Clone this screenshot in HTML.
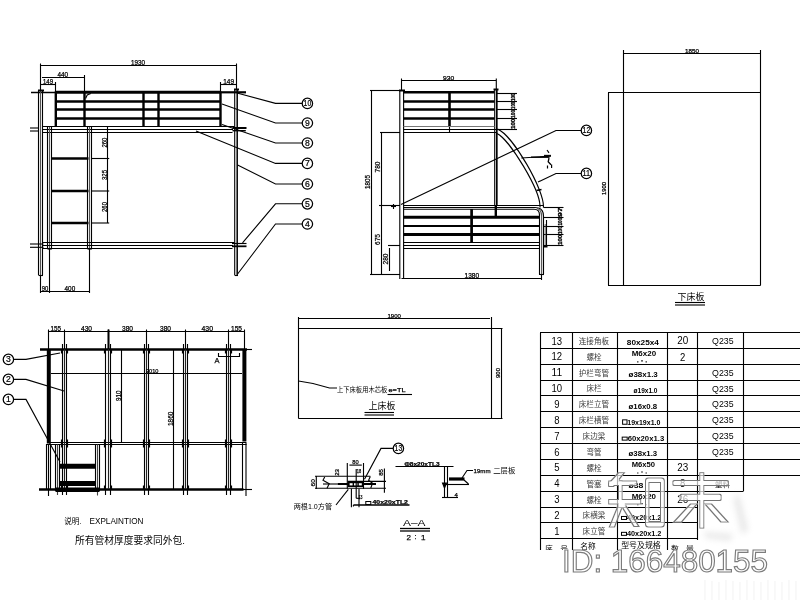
<!DOCTYPE html>
<html><head><meta charset="utf-8"><title>Bunk bed drawing</title>
<style>
html,body{margin:0;padding:0;background:#fff;}
body{width:800px;height:600px;overflow:hidden;font-family:"Liberation Sans",sans-serif;}
svg{display:block}
.cj{font-family:"Liberation Sans","Noto Sans CJK SC",sans-serif;}
</style></head><body>
<svg width="800" height="600" viewBox="0 0 800 600">
<rect x="0" y="0" width="800" height="600" fill="#fff"/>
<g opacity="0.999">
<line x1="40" y1="65.5" x2="236.5" y2="65.5" stroke="#000" stroke-width="1.12"/>
<line x1="40.5" y1="63.5" x2="40.5" y2="91" stroke="#000" stroke-width="1.12"/>
<line x1="236.5" y1="63.5" x2="236.5" y2="90" stroke="#000" stroke-width="1.12"/>
<text x="131" y="64.7" font-size="6.5" font-family="Liberation Sans, sans-serif" fill="#000" textLength="14" lengthAdjust="spacingAndGlyphs" stroke="#000" stroke-width="0.25">1930</text>
<path d="M85.6 98.6l1.6 -3.6l3.6 -1.6" stroke="#000" stroke-width="1.12" fill="none"/>
<line x1="42" y1="77.5" x2="84.5" y2="77.5" stroke="#000" stroke-width="1.12"/>
<line x1="84.5" y1="75" x2="84.5" y2="92" stroke="#000" stroke-width="1.12"/>
<text x="57.5" y="76.5" font-size="6.5" font-family="Liberation Sans, sans-serif" fill="#000" textLength="10.5" lengthAdjust="spacingAndGlyphs" stroke="#000" stroke-width="0.25">440</text>
<line x1="40" y1="84.5" x2="55.5" y2="84.5" stroke="#000" stroke-width="1.12"/>
<line x1="55.5" y1="82" x2="55.5" y2="92" stroke="#000" stroke-width="1.12"/>
<text x="43" y="83.5" font-size="6.5" font-family="Liberation Sans, sans-serif" fill="#000" textLength="10" lengthAdjust="spacingAndGlyphs" stroke="#000" stroke-width="0.25">149</text>
<line x1="220.5" y1="84.5" x2="236.5" y2="84.5" stroke="#000" stroke-width="1.12"/>
<line x1="220.5" y1="82" x2="220.5" y2="92" stroke="#000" stroke-width="1.12"/>
<text x="223.2" y="84.2" font-size="6.5" font-family="Liberation Sans, sans-serif" fill="#000" textLength="10.8" lengthAdjust="spacingAndGlyphs" stroke="#000" stroke-width="0.25">149</text>
<line x1="31" y1="92.5" x2="55" y2="92.5" stroke="#000" stroke-width="1.5"/>
<line x1="55" y1="92.3" x2="221" y2="92.3" stroke="#000" stroke-width="3"/>
<line x1="221" y1="92.3" x2="246" y2="92.3" stroke="#000" stroke-width="2.2"/>
<line x1="55" y1="101.5" x2="221" y2="101.5" stroke="#000" stroke-width="2.6"/>
<line x1="55" y1="109.5" x2="221" y2="109.5" stroke="#000" stroke-width="2.6"/>
<line x1="55" y1="118.5" x2="221" y2="118.5" stroke="#000" stroke-width="2.6"/>
<line x1="55.8" y1="91.5" x2="55.8" y2="127" stroke="#000" stroke-width="2.4"/>
<line x1="84.5" y1="91.5" x2="84.5" y2="127" stroke="#000" stroke-width="2.4"/>
<line x1="143.5" y1="91.5" x2="143.5" y2="127" stroke="#000" stroke-width="2.4"/>
<line x1="158.5" y1="91.5" x2="158.5" y2="127" stroke="#000" stroke-width="2.4"/>
<line x1="220.5" y1="91.5" x2="220.5" y2="127" stroke="#000" stroke-width="2.4"/>
<line x1="43" y1="126.5" x2="234.5" y2="126.5" stroke="#000" stroke-width="1.12"/>
<line x1="232.5" y1="128" x2="246.5" y2="128" stroke="#000" stroke-width="2"/>
<line x1="43" y1="129.5" x2="233" y2="129.5" stroke="#000" stroke-width="1.12"/>
<line x1="43" y1="132.5" x2="232.5" y2="132.5" stroke="#000" stroke-width="1.12"/>
<line x1="232.5" y1="130.7" x2="245.8" y2="130.7" stroke="#000" stroke-width="1.4"/>
<line x1="30" y1="128" x2="39" y2="128" stroke="#000" stroke-width="1.12"/>
<line x1="30" y1="131" x2="39" y2="131" stroke="#000" stroke-width="1.12"/>
<line x1="38.5" y1="90" x2="38.5" y2="275.5" stroke="#000" stroke-width="1.12"/>
<line x1="42.5" y1="90" x2="42.5" y2="275.5" stroke="#000" stroke-width="1.12"/>
<line x1="40.5" y1="90" x2="40.5" y2="275.5" stroke="#555" stroke-width="1.12"/>
<line x1="39" y1="275.5" x2="43" y2="275.5" stroke="#000" stroke-width="1.12"/>
<line x1="38" y1="90.5" x2="44" y2="90.5" stroke="#000" stroke-width="2"/>
<line x1="234.7" y1="89" x2="234.7" y2="275.5" stroke="#000" stroke-width="1.1"/>
<line x1="237.2" y1="89" x2="237.2" y2="275.5" stroke="#000" stroke-width="1.5"/>
<line x1="235" y1="275.5" x2="238" y2="275.5" stroke="#000" stroke-width="1.12"/>
<line x1="234" y1="89.5" x2="239" y2="89.5" stroke="#000" stroke-width="2"/>
<line x1="47.5" y1="127" x2="47.5" y2="249" stroke="#000" stroke-width="1.12"/>
<line x1="51.5" y1="127" x2="51.5" y2="249" stroke="#000" stroke-width="1.12"/>
<line x1="87.5" y1="127" x2="87.5" y2="249" stroke="#000" stroke-width="1.12"/>
<line x1="91.5" y1="127" x2="91.5" y2="249" stroke="#000" stroke-width="1.12"/>
<line x1="49.5" y1="127" x2="49.5" y2="249" stroke="#555" stroke-width="1.12"/>
<line x1="89.5" y1="127" x2="89.5" y2="249" stroke="#555" stroke-width="1.12"/>
<line x1="47.5" y1="248.8" x2="51.8" y2="248.8" stroke="#000" stroke-width="1.6"/>
<line x1="87.5" y1="248.8" x2="91.8" y2="248.8" stroke="#000" stroke-width="1.6"/>
<line x1="51.5" y1="158.5" x2="88.5" y2="158.5" stroke="#000" stroke-width="2.4"/>
<line x1="51.5" y1="191" x2="88.5" y2="191" stroke="#000" stroke-width="2.4"/>
<line x1="51.5" y1="223" x2="88.5" y2="223" stroke="#000" stroke-width="2.4"/>
<line x1="107.5" y1="127" x2="107.5" y2="223" stroke="#000" stroke-width="1.12"/>
<line x1="91.5" y1="158.5" x2="109.2" y2="158.5" stroke="#000" stroke-width="1.12"/>
<line x1="91.5" y1="191" x2="109.2" y2="191" stroke="#000" stroke-width="1.12"/>
<line x1="91.5" y1="223" x2="109.2" y2="223" stroke="#000" stroke-width="1.12"/>
<text x="106.6" y="147.6" font-size="7" font-family="Liberation Sans, sans-serif" fill="#000" textLength="10" lengthAdjust="spacingAndGlyphs" transform="rotate(-90 106.6 147.6)" stroke="#000" stroke-width="0.25">260</text>
<text x="106.6" y="180" font-size="7" font-family="Liberation Sans, sans-serif" fill="#000" textLength="10" lengthAdjust="spacingAndGlyphs" transform="rotate(-90 106.6 180)" stroke="#000" stroke-width="0.25">325</text>
<text x="106.6" y="212" font-size="7" font-family="Liberation Sans, sans-serif" fill="#000" textLength="10" lengthAdjust="spacingAndGlyphs" transform="rotate(-90 106.6 212)" stroke="#000" stroke-width="0.25">260</text>
<line x1="43" y1="242.5" x2="234.5" y2="242.5" stroke="#000" stroke-width="1.12"/>
<line x1="43" y1="245.5" x2="233" y2="245.5" stroke="#000" stroke-width="1.12"/>
<line x1="43" y1="248.5" x2="232.5" y2="248.5" stroke="#000" stroke-width="1.12"/>
<line x1="232" y1="243.5" x2="246.5" y2="243.5" stroke="#000" stroke-width="1.2"/>
<line x1="232" y1="246.3" x2="246.5" y2="246.3" stroke="#000" stroke-width="1.8"/>
<line x1="30" y1="244" x2="43.5" y2="244" stroke="#000" stroke-width="1.12"/>
<line x1="30" y1="247.3" x2="43.5" y2="247.3" stroke="#000" stroke-width="1.12"/>
<line x1="40" y1="291.5" x2="89.5" y2="291.5" stroke="#000" stroke-width="1.12"/>
<line x1="40.5" y1="275.5" x2="40.5" y2="293" stroke="#000" stroke-width="1.12"/>
<line x1="49.5" y1="249" x2="49.5" y2="293" stroke="#000" stroke-width="1.12"/>
<line x1="89.5" y1="249" x2="89.5" y2="293" stroke="#000" stroke-width="1.12"/>
<text x="41.8" y="290.7" font-size="6.5" font-family="Liberation Sans, sans-serif" fill="#000" textLength="6.5" lengthAdjust="spacingAndGlyphs" stroke="#000" stroke-width="0.25">90</text>
<text x="64.6" y="290.7" font-size="6.5" font-family="Liberation Sans, sans-serif" fill="#000" textLength="10.6" lengthAdjust="spacingAndGlyphs" stroke="#000" stroke-width="0.25">400</text>
<path d="M237 93L275.5 103.4H302.4" stroke="#000" stroke-width="1.12" fill="none"/>
<circle cx="307.4" cy="103.4" r="5.2" fill="#fff" stroke="#000" stroke-width="1.25"/>
<text x="307.4" y="106.4" font-size="8.6" font-family="Liberation Sans, sans-serif" fill="#000" text-anchor="middle" textLength="7.6" lengthAdjust="spacingAndGlyphs" stroke="#000" stroke-width="0.2">10</text>
<path d="M222 104L275.5 123H302.4" stroke="#000" stroke-width="1.12" fill="none"/>
<circle cx="307.4" cy="123" r="5.2" fill="#fff" stroke="#000" stroke-width="1.25"/>
<text x="307.4" y="126.05" font-size="8.6" font-family="Liberation Sans, sans-serif" fill="#000" text-anchor="middle" stroke="#000" stroke-width="0.2">9</text>
<path d="M222 124.5L275.5 143H302.4" stroke="#000" stroke-width="1.12" fill="none"/>
<circle cx="307.4" cy="143" r="5.2" fill="#fff" stroke="#000" stroke-width="1.25"/>
<text x="307.4" y="146.05" font-size="8.6" font-family="Liberation Sans, sans-serif" fill="#000" text-anchor="middle" stroke="#000" stroke-width="0.2">8</text>
<path d="M196 131L275.5 163.4H302.4" stroke="#000" stroke-width="1.12" fill="none"/>
<circle cx="307.4" cy="163.4" r="5.2" fill="#fff" stroke="#000" stroke-width="1.25"/>
<text x="307.4" y="166.45" font-size="8.6" font-family="Liberation Sans, sans-serif" fill="#000" text-anchor="middle" stroke="#000" stroke-width="0.2">7</text>
<path d="M237.6 165L275.5 184H302.4" stroke="#000" stroke-width="1.12" fill="none"/>
<circle cx="307.4" cy="184" r="5.2" fill="#fff" stroke="#000" stroke-width="1.25"/>
<text x="307.4" y="187.05" font-size="8.6" font-family="Liberation Sans, sans-serif" fill="#000" text-anchor="middle" stroke="#000" stroke-width="0.2">6</text>
<path d="M242.5 242.8L275.5 203.8H302.4" stroke="#000" stroke-width="1.12" fill="none"/>
<circle cx="307.4" cy="203.8" r="5.2" fill="#fff" stroke="#000" stroke-width="1.25"/>
<text x="307.4" y="206.85" font-size="8.6" font-family="Liberation Sans, sans-serif" fill="#000" text-anchor="middle" stroke="#000" stroke-width="0.2">5</text>
<path d="M237.6 274L275.5 224H302.4" stroke="#000" stroke-width="1.12" fill="none"/>
<circle cx="307.4" cy="224" r="5.2" fill="#fff" stroke="#000" stroke-width="1.25"/>
<text x="307.4" y="227.05" font-size="8.6" font-family="Liberation Sans, sans-serif" fill="#000" text-anchor="middle" stroke="#000" stroke-width="0.2">4</text>
<line x1="401.5" y1="80.5" x2="496" y2="80.5" stroke="#000" stroke-width="1.12"/>
<line x1="401.5" y1="78.5" x2="401.5" y2="90" stroke="#000" stroke-width="1.12"/>
<line x1="496.3" y1="78.5" x2="496.3" y2="90" stroke="#000" stroke-width="1.12"/>
<text x="443" y="79.8" font-size="6" font-family="Liberation Sans, sans-serif" fill="#000" textLength="11.2" lengthAdjust="spacingAndGlyphs" stroke="#000" stroke-width="0.25">930</text>
<line x1="399.8" y1="90" x2="399.8" y2="279" stroke="#000" stroke-width="1.12"/>
<line x1="403.6" y1="90" x2="403.6" y2="279" stroke="#000" stroke-width="1.12"/>
<line x1="399" y1="90.5" x2="405" y2="90.5" stroke="#000" stroke-width="2"/>
<line x1="494.7" y1="89" x2="494.7" y2="206" stroke="#000" stroke-width="1.1"/>
<line x1="496.8" y1="89" x2="496.8" y2="206" stroke="#000" stroke-width="1.7"/>
<line x1="493.5" y1="89.5" x2="498.5" y2="89.5" stroke="#000" stroke-width="2"/>
<line x1="403.5" y1="92.3" x2="494.5" y2="92.3" stroke="#000" stroke-width="2.6"/>
<line x1="403.5" y1="101.5" x2="494.5" y2="101.5" stroke="#000" stroke-width="2.6"/>
<line x1="403.5" y1="109.5" x2="494.5" y2="109.5" stroke="#000" stroke-width="2.6"/>
<line x1="403.5" y1="118.5" x2="494.5" y2="118.5" stroke="#000" stroke-width="2.6"/>
<line x1="449.5" y1="92" x2="449.5" y2="127" stroke="#000" stroke-width="2.6"/>
<line x1="449.5" y1="127" x2="449.5" y2="132" stroke="#000" stroke-width="1.12"/>
<line x1="403.5" y1="126.5" x2="494.5" y2="126.5" stroke="#777" stroke-width="1.12"/>
<line x1="403.5" y1="129.5" x2="497" y2="129.5" stroke="#000" stroke-width="1.12"/>
<line x1="403.5" y1="132.5" x2="497" y2="132.5" stroke="#000" stroke-width="1.12"/>
<line x1="370" y1="90.5" x2="400" y2="90.5" stroke="#000" stroke-width="1.12"/>
<line x1="371.5" y1="90.5" x2="371.5" y2="274.5" stroke="#000" stroke-width="1.12"/>
<line x1="380" y1="132.5" x2="400" y2="132.5" stroke="#000" stroke-width="1.12"/>
<line x1="381.5" y1="132.5" x2="381.5" y2="274.5" stroke="#000" stroke-width="1.12"/>
<line x1="379" y1="205.5" x2="400" y2="205.5" stroke="#000" stroke-width="1.12"/>
<line x1="388" y1="245.5" x2="400" y2="245.5" stroke="#000" stroke-width="1.12"/>
<line x1="389.5" y1="248" x2="389.5" y2="271" stroke="#000" stroke-width="1.12"/>
<line x1="370" y1="274.5" x2="400" y2="274.5" stroke="#000" stroke-width="1.12"/>
<text x="369.7" y="189" font-size="7" font-family="Liberation Sans, sans-serif" fill="#000" textLength="14" lengthAdjust="spacingAndGlyphs" transform="rotate(-90 369.7 189)" stroke="#000" stroke-width="0.25">1805</text>
<text x="379.7" y="172.5" font-size="7" font-family="Liberation Sans, sans-serif" fill="#000" textLength="11" lengthAdjust="spacingAndGlyphs" transform="rotate(-90 379.7 172.5)" stroke="#000" stroke-width="0.25">780</text>
<text x="379.7" y="245" font-size="7" font-family="Liberation Sans, sans-serif" fill="#000" textLength="11" lengthAdjust="spacingAndGlyphs" transform="rotate(-90 379.7 245)" stroke="#000" stroke-width="0.25">675</text>
<text x="387.7" y="264.5" font-size="7" font-family="Liberation Sans, sans-serif" fill="#000" textLength="11" lengthAdjust="spacingAndGlyphs" transform="rotate(-90 387.7 264.5)" stroke="#000" stroke-width="0.25">280</text>
<path d="M403.5 205.5H543.5" stroke="#000" stroke-width="1.12" fill="none"/>
<path d="M403.5 207.5H535Q543.5 207.5 543.5 216V274.5" stroke="#000" stroke-width="1.12" fill="none"/>
<path d="M403.5 209.3H534Q539.5 209.3 539.5 215V274.5" stroke="#000" stroke-width="1.12" fill="none"/>
<path d="M537 208.5Q541.6 209.5 541.6 216V274.5" stroke="#555" stroke-width="1.12" fill="none"/>
<line x1="539" y1="274.5" x2="544" y2="274.5" stroke="#000" stroke-width="1.12"/>
<line x1="403.5" y1="217.2" x2="540" y2="217.2" stroke="#000" stroke-width="3"/>
<line x1="403.5" y1="226" x2="540" y2="226" stroke="#000" stroke-width="2.2"/>
<line x1="403.5" y1="234.4" x2="540" y2="234.4" stroke="#000" stroke-width="3"/>
<line x1="471.6" y1="209" x2="471.6" y2="242.5" stroke="#000" stroke-width="2.7"/>
<line x1="403.5" y1="242.5" x2="540" y2="242.5" stroke="#000" stroke-width="1.12"/>
<line x1="403.5" y1="245.5" x2="540" y2="245.5" stroke="#000" stroke-width="1.12"/>
<line x1="403.5" y1="248.5" x2="540" y2="248.5" stroke="#000" stroke-width="1.12"/>
<line x1="495.8" y1="205.5" x2="495.8" y2="216" stroke="#000" stroke-width="2.4"/>
<path d="M497.5 129C513.1 135.6 544.8 190.5 543.4 207.5" stroke="#000" stroke-width="1.12" fill="none"/>
<path d="M497 133.5C509.5 139.5 541 190.5 540 207.5" stroke="#000" stroke-width="1.12" fill="none"/>
<line x1="536.5" y1="190.5" x2="541.5" y2="189.5" stroke="#000" stroke-width="1.6"/>
<path d="M521.3 158L551 156.1" stroke="#000" stroke-width="1.12" fill="none"/>
<path d="M531 157.2H549.5" stroke="#000" stroke-width="1.4" fill="none"/>
<path d="M544 155.4H551" stroke="#000" stroke-width="1.12" fill="none"/>
<path d="M547 150l2 2.8" stroke="#000" stroke-width="1.12" fill="none"/>
<path d="M549 158l-0.8 3.8l2.8 3" stroke="#000" stroke-width="1.3" fill="none"/>
<path d="M547.5 165.5v3M551.6 164.4v3.6" stroke="#000" stroke-width="1.2" fill="none"/>
<line x1="497" y1="93.5" x2="517" y2="93.5" stroke="#000" stroke-width="1.12"/>
<line x1="497" y1="101.5" x2="517" y2="101.5" stroke="#000" stroke-width="1.12"/>
<line x1="497" y1="109.5" x2="517" y2="109.5" stroke="#000" stroke-width="1.12"/>
<line x1="497" y1="118.5" x2="517" y2="118.5" stroke="#000" stroke-width="1.12"/>
<line x1="497" y1="129.5" x2="517" y2="129.5" stroke="#000" stroke-width="1.12"/>
<text x="515.2" y="101" font-size="6" font-family="Liberation Sans, sans-serif" fill="#000" font-weight="bold" textLength="7.7" lengthAdjust="spacingAndGlyphs" transform="rotate(-90 515.2 101)" stroke="#000" stroke-width="0.35">100</text>
<text x="515.2" y="109" font-size="6" font-family="Liberation Sans, sans-serif" fill="#000" font-weight="bold" textLength="7.2" lengthAdjust="spacingAndGlyphs" transform="rotate(-90 515.2 109)" stroke="#000" stroke-width="0.35">100</text>
<text x="515.2" y="118" font-size="6" font-family="Liberation Sans, sans-serif" fill="#000" font-weight="bold" textLength="8.2" lengthAdjust="spacingAndGlyphs" transform="rotate(-90 515.2 118)" stroke="#000" stroke-width="0.35">100</text>
<text x="515.2" y="129" font-size="6" font-family="Liberation Sans, sans-serif" fill="#000" font-weight="bold" textLength="10.2" lengthAdjust="spacingAndGlyphs" transform="rotate(-90 515.2 129)" stroke="#000" stroke-width="0.35">100</text>
<line x1="543.5" y1="207.5" x2="563.5" y2="207.5" stroke="#000" stroke-width="1.12"/>
<line x1="543.5" y1="217.5" x2="563.5" y2="217.5" stroke="#000" stroke-width="1.12"/>
<line x1="543.5" y1="226.5" x2="563.5" y2="226.5" stroke="#000" stroke-width="1.12"/>
<line x1="543.5" y1="234.5" x2="563.5" y2="234.5" stroke="#000" stroke-width="1.12"/>
<line x1="543.5" y1="245.5" x2="563.5" y2="245.5" stroke="#000" stroke-width="1.12"/>
<text x="561.6" y="217" font-size="6" font-family="Liberation Sans, sans-serif" fill="#000" font-weight="bold" textLength="9.7" lengthAdjust="spacingAndGlyphs" transform="rotate(-90 561.6 217)" stroke="#000" stroke-width="0.35">97</text>
<text x="561.6" y="225.5" font-size="6" font-family="Liberation Sans, sans-serif" fill="#000" font-weight="bold" textLength="7.7" lengthAdjust="spacingAndGlyphs" transform="rotate(-90 561.6 225.5)" stroke="#000" stroke-width="0.35">100</text>
<text x="561.6" y="234" font-size="6" font-family="Liberation Sans, sans-serif" fill="#000" font-weight="bold" textLength="7.7" lengthAdjust="spacingAndGlyphs" transform="rotate(-90 561.6 234)" stroke="#000" stroke-width="0.35">100</text>
<text x="561.6" y="245" font-size="6" font-family="Liberation Sans, sans-serif" fill="#000" font-weight="bold" textLength="10.2" lengthAdjust="spacingAndGlyphs" transform="rotate(-90 561.6 245)" stroke="#000" stroke-width="0.35">100</text>
<line x1="546.5" y1="220" x2="546.5" y2="245.5" stroke="#000" stroke-width="1.12"/>
<line x1="545.2" y1="224" x2="545.2" y2="245.5" stroke="#444" stroke-width="0.8"/>
<line x1="544" y1="246.5" x2="547.5" y2="246.5" stroke="#000" stroke-width="2"/>
<line x1="401.5" y1="278.5" x2="541.5" y2="278.5" stroke="#000" stroke-width="1.12"/>
<line x1="541.5" y1="275" x2="541.5" y2="280" stroke="#000" stroke-width="1.12"/>
<text x="464.5" y="277.6" font-size="6.5" font-family="Liberation Sans, sans-serif" fill="#000" textLength="14.6" lengthAdjust="spacingAndGlyphs" stroke="#000" stroke-width="0.25">1380</text>
<path d="M401 204.5L556 130.5H581.5" stroke="#000" stroke-width="1.12" fill="none"/>
<circle cx="586.4" cy="130.4" r="5.2" fill="#fff" stroke="#000" stroke-width="1.25"/>
<text x="586.4" y="133.4" font-size="8.6" font-family="Liberation Sans, sans-serif" fill="#000" text-anchor="middle" textLength="7.6" lengthAdjust="spacingAndGlyphs" stroke="#000" stroke-width="0.2">12</text>
<path d="M538 182L556 173.5H581.5" stroke="#000" stroke-width="1.12" fill="none"/>
<circle cx="586.4" cy="173.4" r="5.2" fill="#fff" stroke="#000" stroke-width="1.25"/>
<text x="586.4" y="176.4" font-size="8.6" font-family="Liberation Sans, sans-serif" fill="#000" text-anchor="middle" textLength="7.6" lengthAdjust="spacingAndGlyphs" stroke="#000" stroke-width="0.2">11</text>
<line x1="391" y1="206.5" x2="396" y2="206.5" stroke="#000" stroke-width="1.12"/>
<line x1="393.5" y1="204" x2="393.5" y2="209" stroke="#000" stroke-width="1.12"/>
<line x1="623.5" y1="53.5" x2="760.5" y2="53.5" stroke="#000" stroke-width="1.12"/>
<line x1="623.5" y1="50" x2="623.5" y2="285.5" stroke="#000" stroke-width="1.12"/>
<line x1="760.5" y1="50" x2="760.5" y2="285.5" stroke="#000" stroke-width="1.12"/>
<line x1="608" y1="92.5" x2="760.5" y2="92.5" stroke="#000" stroke-width="1.12"/>
<line x1="608" y1="285.5" x2="760.5" y2="285.5" stroke="#000" stroke-width="1.12"/>
<line x1="608.5" y1="92.5" x2="608.5" y2="285.5" stroke="#000" stroke-width="1.12"/>
<text x="685" y="52.8" font-size="5.5" font-family="Liberation Sans, sans-serif" fill="#000" textLength="14" lengthAdjust="spacingAndGlyphs" stroke="#000" stroke-width="0.25">1850</text>
<text x="605.5" y="195" font-size="6" font-family="Liberation Sans, sans-serif" fill="#000" textLength="13" lengthAdjust="spacingAndGlyphs" transform="rotate(-90 605.5 195)" stroke="#000" stroke-width="0.25">1900</text>
<text class="cj" x="677.5" y="299.5" font-size="9" fill="#000" textLength="27" lengthAdjust="spacingAndGlyphs">下床板</text>
<line x1="675" y1="302.5" x2="705" y2="302.5" stroke="#000" stroke-width="1.12"/>
<line x1="675" y1="305" x2="705" y2="305" stroke="#000" stroke-width="1.12"/>
<line x1="48" y1="331.5" x2="244.5" y2="331.5" stroke="#000" stroke-width="1.12"/>
<line x1="48.5" y1="329.5" x2="48.5" y2="349" stroke="#000" stroke-width="1.12"/>
<line x1="64.5" y1="329.5" x2="64.5" y2="349" stroke="#000" stroke-width="1.12"/>
<line x1="108.5" y1="329.5" x2="108.5" y2="349" stroke="#000" stroke-width="1.12"/>
<line x1="146.5" y1="329.5" x2="146.5" y2="349" stroke="#000" stroke-width="1.12"/>
<line x1="185.5" y1="329.5" x2="185.5" y2="349" stroke="#000" stroke-width="1.12"/>
<line x1="228.5" y1="329.5" x2="228.5" y2="349" stroke="#000" stroke-width="1.12"/>
<line x1="244.5" y1="329.5" x2="244.5" y2="349" stroke="#000" stroke-width="1.12"/>
<line x1="108.5" y1="329.5" x2="108.5" y2="349" stroke="#000" stroke-width="2"/>
<text x="50.5" y="330.5" font-size="6.5" font-family="Liberation Sans, sans-serif" fill="#000" textLength="10.5" lengthAdjust="spacingAndGlyphs" stroke="#000" stroke-width="0.25">155</text>
<text x="81" y="330.5" font-size="6.5" font-family="Liberation Sans, sans-serif" fill="#000" textLength="11" lengthAdjust="spacingAndGlyphs" stroke="#000" stroke-width="0.25">430</text>
<text x="122" y="330.5" font-size="6.5" font-family="Liberation Sans, sans-serif" fill="#000" textLength="11" lengthAdjust="spacingAndGlyphs" stroke="#000" stroke-width="0.25">380</text>
<text x="160" y="330.5" font-size="6.5" font-family="Liberation Sans, sans-serif" fill="#000" textLength="11" lengthAdjust="spacingAndGlyphs" stroke="#000" stroke-width="0.25">380</text>
<text x="201.5" y="330.5" font-size="6.5" font-family="Liberation Sans, sans-serif" fill="#000" textLength="11.5" lengthAdjust="spacingAndGlyphs" stroke="#000" stroke-width="0.25">430</text>
<text x="231" y="330.5" font-size="6.5" font-family="Liberation Sans, sans-serif" fill="#000" textLength="11" lengthAdjust="spacingAndGlyphs" stroke="#000" stroke-width="0.25">155</text>
<line x1="40" y1="349.5" x2="247" y2="349.5" stroke="#000" stroke-width="2.6"/>
<line x1="247" y1="349.5" x2="252" y2="349.5" stroke="#000" stroke-width="1.12"/>
<line x1="48.8" y1="349" x2="48.8" y2="443.5" stroke="#000" stroke-width="4"/>
<line x1="244.4" y1="349" x2="244.4" y2="441.5" stroke="#000" stroke-width="4"/>
<line x1="51" y1="373.5" x2="242" y2="373.5" stroke="#000" stroke-width="1.12"/>
<line x1="47" y1="442.5" x2="246.5" y2="442.5" stroke="#000" stroke-width="1.12"/>
<line x1="47" y1="444.5" x2="246.5" y2="444.5" stroke="#000" stroke-width="1.12"/>
<line x1="39" y1="489.5" x2="243.5" y2="489.5" stroke="#000" stroke-width="2.4"/>
<line x1="243" y1="489.5" x2="252" y2="489.5" stroke="#000" stroke-width="1.12"/>
<line x1="62.5" y1="344" x2="62.5" y2="495" stroke="#000" stroke-width="1.12"/>
<line x1="66.5" y1="344" x2="66.5" y2="495" stroke="#000" stroke-width="1.12"/>
<line x1="64.5" y1="349" x2="64.5" y2="489" stroke="#222" stroke-width="1.12"/>
<line x1="61.7" y1="349.5" x2="61.7" y2="353.5" stroke="#000" stroke-width="1.6"/>
<line x1="67.3" y1="349.5" x2="67.3" y2="353.5" stroke="#000" stroke-width="1.6"/>
<line x1="61.7" y1="439.5" x2="61.7" y2="447.5" stroke="#000" stroke-width="1.6"/>
<line x1="67.3" y1="439.5" x2="67.3" y2="447.5" stroke="#000" stroke-width="1.6"/>
<line x1="61.7" y1="485.5" x2="61.7" y2="489.5" stroke="#000" stroke-width="1.6"/>
<line x1="67.3" y1="485.5" x2="67.3" y2="489.5" stroke="#000" stroke-width="1.6"/>
<line x1="105.5" y1="344" x2="105.5" y2="495" stroke="#000" stroke-width="1.12"/>
<line x1="110.5" y1="344" x2="110.5" y2="495" stroke="#000" stroke-width="1.12"/>
<line x1="108.5" y1="349" x2="108.5" y2="489" stroke="#222" stroke-width="1.12"/>
<line x1="104.7" y1="349.5" x2="104.7" y2="353.5" stroke="#000" stroke-width="1.6"/>
<line x1="111.3" y1="349.5" x2="111.3" y2="353.5" stroke="#000" stroke-width="1.6"/>
<line x1="104.7" y1="439.5" x2="104.7" y2="447.5" stroke="#000" stroke-width="1.6"/>
<line x1="111.3" y1="439.5" x2="111.3" y2="447.5" stroke="#000" stroke-width="1.6"/>
<line x1="104.7" y1="485.5" x2="104.7" y2="489.5" stroke="#000" stroke-width="1.6"/>
<line x1="111.3" y1="485.5" x2="111.3" y2="489.5" stroke="#000" stroke-width="1.6"/>
<line x1="144.5" y1="344" x2="144.5" y2="495" stroke="#000" stroke-width="1.12"/>
<line x1="148.5" y1="344" x2="148.5" y2="495" stroke="#000" stroke-width="1.12"/>
<line x1="146.5" y1="349" x2="146.5" y2="489" stroke="#222" stroke-width="1.12"/>
<line x1="143.7" y1="349.5" x2="143.7" y2="353.5" stroke="#000" stroke-width="1.6"/>
<line x1="149.3" y1="349.5" x2="149.3" y2="353.5" stroke="#000" stroke-width="1.6"/>
<line x1="143.7" y1="439.5" x2="143.7" y2="447.5" stroke="#000" stroke-width="1.6"/>
<line x1="149.3" y1="439.5" x2="149.3" y2="447.5" stroke="#000" stroke-width="1.6"/>
<line x1="143.7" y1="485.5" x2="143.7" y2="489.5" stroke="#000" stroke-width="1.6"/>
<line x1="149.3" y1="485.5" x2="149.3" y2="489.5" stroke="#000" stroke-width="1.6"/>
<line x1="183.5" y1="344" x2="183.5" y2="495" stroke="#000" stroke-width="1.12"/>
<line x1="187.5" y1="344" x2="187.5" y2="495" stroke="#000" stroke-width="1.12"/>
<line x1="185.5" y1="349" x2="185.5" y2="489" stroke="#222" stroke-width="1.12"/>
<line x1="182.7" y1="349.5" x2="182.7" y2="353.5" stroke="#000" stroke-width="1.6"/>
<line x1="188.3" y1="349.5" x2="188.3" y2="353.5" stroke="#000" stroke-width="1.6"/>
<line x1="182.7" y1="439.5" x2="182.7" y2="447.5" stroke="#000" stroke-width="1.6"/>
<line x1="188.3" y1="439.5" x2="188.3" y2="447.5" stroke="#000" stroke-width="1.6"/>
<line x1="182.7" y1="485.5" x2="182.7" y2="489.5" stroke="#000" stroke-width="1.6"/>
<line x1="188.3" y1="485.5" x2="188.3" y2="489.5" stroke="#000" stroke-width="1.6"/>
<line x1="226.5" y1="344" x2="226.5" y2="495" stroke="#000" stroke-width="1.12"/>
<line x1="230.5" y1="344" x2="230.5" y2="495" stroke="#000" stroke-width="1.12"/>
<line x1="228.5" y1="349" x2="228.5" y2="489" stroke="#222" stroke-width="1.12"/>
<line x1="225.7" y1="349.5" x2="225.7" y2="353.5" stroke="#000" stroke-width="1.6"/>
<line x1="231.3" y1="349.5" x2="231.3" y2="353.5" stroke="#000" stroke-width="1.6"/>
<line x1="225.7" y1="439.5" x2="225.7" y2="447.5" stroke="#000" stroke-width="1.6"/>
<line x1="231.3" y1="439.5" x2="231.3" y2="447.5" stroke="#000" stroke-width="1.6"/>
<line x1="225.7" y1="485.5" x2="225.7" y2="489.5" stroke="#000" stroke-width="1.6"/>
<line x1="231.3" y1="485.5" x2="231.3" y2="489.5" stroke="#000" stroke-width="1.6"/>
<line x1="46.5" y1="444" x2="46.5" y2="489" stroke="#000" stroke-width="1.12"/>
<line x1="48.5" y1="444" x2="48.5" y2="496" stroke="#000" stroke-width="1.12"/>
<line x1="50.5" y1="444" x2="50.5" y2="489" stroke="#000" stroke-width="1.12"/>
<line x1="242.5" y1="443" x2="242.5" y2="489.5" stroke="#000" stroke-width="1.12"/>
<line x1="246" y1="443" x2="246" y2="496" stroke="#000" stroke-width="1.12"/>
<line x1="55.5" y1="444.5" x2="55.5" y2="491" stroke="#000" stroke-width="1.12"/>
<line x1="59.5" y1="444.5" x2="59.5" y2="491" stroke="#000" stroke-width="1.12"/>
<line x1="95.5" y1="444.5" x2="95.5" y2="491" stroke="#000" stroke-width="1.12"/>
<line x1="99.5" y1="444.5" x2="99.5" y2="491" stroke="#000" stroke-width="1.12"/>
<line x1="57.5" y1="444.5" x2="57.5" y2="495" stroke="#444" stroke-width="1.12"/>
<line x1="97.5" y1="444.5" x2="97.5" y2="495.5" stroke="#444" stroke-width="1.12"/>
<line x1="59.5" y1="466.25" x2="95.5" y2="466.25" stroke="#000" stroke-width="5"/>
<line x1="59.5" y1="483.5" x2="95.5" y2="483.5" stroke="#000" stroke-width="5"/>
<line x1="55.5" y1="489.8" x2="99.5" y2="489.8" stroke="#000" stroke-width="4.4"/>
<line x1="121.5" y1="349" x2="121.5" y2="442" stroke="#000" stroke-width="1.12"/>
<text x="120.6" y="401" font-size="7" font-family="Liberation Sans, sans-serif" fill="#000" textLength="10.5" lengthAdjust="spacingAndGlyphs" transform="rotate(-90 120.6 401)" stroke="#000" stroke-width="0.25">910</text>
<line x1="173.5" y1="349" x2="173.5" y2="489" stroke="#000" stroke-width="1.12"/>
<text x="172.6" y="426" font-size="7" font-family="Liberation Sans, sans-serif" fill="#000" textLength="14.5" lengthAdjust="spacingAndGlyphs" transform="rotate(-90 172.6 426)" stroke="#000" stroke-width="0.25">1860</text>
<text x="146" y="372.7" font-size="6" font-family="Liberation Sans, sans-serif" fill="#000" textLength="12.5" lengthAdjust="spacingAndGlyphs" stroke="#000" stroke-width="0.25">2010</text>
<path d="M218.5 353V356.5H239.5V353" stroke="#000" stroke-width="1.12" fill="none"/>
<text x="214.5" y="362.5" font-size="7.5" font-family="Liberation Sans, sans-serif" fill="#000" stroke="#000" stroke-width="0.25">A</text>
<path d="M13.4 359.4H26L60 353" stroke="#000" stroke-width="1.12" fill="none"/>
<circle cx="8.4" cy="359.4" r="5.2" fill="#fff" stroke="#000" stroke-width="1.25"/>
<text x="8.4" y="362.45" font-size="8.6" font-family="Liberation Sans, sans-serif" fill="#000" text-anchor="middle" stroke="#000" stroke-width="0.2">3</text>
<path d="M13.4 379.4H26L64 391" stroke="#000" stroke-width="1.12" fill="none"/>
<circle cx="8.4" cy="379.4" r="5.2" fill="#fff" stroke="#000" stroke-width="1.25"/>
<text x="8.4" y="382.45" font-size="8.6" font-family="Liberation Sans, sans-serif" fill="#000" text-anchor="middle" stroke="#000" stroke-width="0.2">2</text>
<path d="M13.4 399.4H26L60 462" stroke="#000" stroke-width="1.12" fill="none"/>
<circle cx="8.4" cy="399.4" r="5.2" fill="#fff" stroke="#000" stroke-width="1.25"/>
<text x="8.4" y="402.45" font-size="8.6" font-family="Liberation Sans, sans-serif" fill="#000" text-anchor="middle" stroke="#000" stroke-width="0.2">1</text>
<text class="cj" x="64.2" y="524" font-size="7.6" fill="#000" textLength="17.5" lengthAdjust="spacingAndGlyphs">说明.</text>
<text x="89.5" y="524" font-size="9.5" font-family="Liberation Sans, sans-serif" fill="#000" textLength="54" lengthAdjust="spacingAndGlyphs">EXPLAINTION</text>
<text class="cj" x="75" y="544" font-size="9.8" fill="#000" textLength="110" lengthAdjust="spacingAndGlyphs">所有管材厚度要求同外包.</text>
<line x1="298.5" y1="318.5" x2="490" y2="318.5" stroke="#000" stroke-width="1.12"/>
<line x1="298.5" y1="317" x2="298.5" y2="418.5" stroke="#000" stroke-width="1.12"/>
<line x1="491.5" y1="317" x2="491.5" y2="418.5" stroke="#000" stroke-width="1.12"/>
<line x1="298.5" y1="328.5" x2="502.5" y2="328.5" stroke="#000" stroke-width="1.12"/>
<line x1="298.5" y1="418.5" x2="502.5" y2="418.5" stroke="#000" stroke-width="1.12"/>
<line x1="501.5" y1="328.5" x2="501.5" y2="418.5" stroke="#000" stroke-width="1.12"/>
<text x="387.5" y="317.5" font-size="6" font-family="Liberation Sans, sans-serif" fill="#000" textLength="13.5" lengthAdjust="spacingAndGlyphs" stroke="#000" stroke-width="0.25">1900</text>
<text x="499.8" y="378" font-size="6" font-family="Liberation Sans, sans-serif" fill="#000" textLength="10" lengthAdjust="spacingAndGlyphs" transform="rotate(-90 499.8 378)" stroke="#000" stroke-width="0.25">900</text>
<path d="M298.5 381L313 383.5L329.5 388H337" stroke="#000" stroke-width="1.12" fill="none"/>
<text class="cj" x="337" y="391.5" font-size="6.3" fill="#000" textLength="50.3" lengthAdjust="spacingAndGlyphs">上下床板用木芯板</text>
<text x="388.5" y="391.5" font-size="6" font-family="Liberation Sans, sans-serif" fill="#000" textLength="17" lengthAdjust="spacingAndGlyphs" stroke="#000" stroke-width="0.25">e=TL</text>
<line x1="387.5" y1="394.5" x2="412" y2="394.5" stroke="#000" stroke-width="1.12"/>
<text class="cj" x="368.5" y="408.5" font-size="9" fill="#000" textLength="27" lengthAdjust="spacingAndGlyphs">上床板</text>
<line x1="364.5" y1="412.5" x2="394" y2="412.5" stroke="#000" stroke-width="1.12"/>
<line x1="364.5" y1="415" x2="394" y2="415" stroke="#000" stroke-width="1.12"/>
<path d="M364.5 479.3L381 448.4H393.4" stroke="#000" stroke-width="1.12" fill="none"/>
<circle cx="398.4" cy="448.4" r="5.2" fill="#fff" stroke="#000" stroke-width="1.25"/>
<text x="398.4" y="451.4" font-size="8.6" font-family="Liberation Sans, sans-serif" fill="#000" text-anchor="middle" textLength="7.6" lengthAdjust="spacingAndGlyphs" stroke="#000" stroke-width="0.2">13</text>
<path d="M348.3 489.3L336 505" stroke="#000" stroke-width="1.12" fill="none"/>
<line x1="315" y1="476.2" x2="370.3" y2="476.2" stroke="#000" stroke-width="1.12"/>
<line x1="347.7" y1="481.4" x2="386" y2="481.4" stroke="#000" stroke-width="1.12"/>
<line x1="315" y1="488.3" x2="386" y2="488.3" stroke="#000" stroke-width="1.12"/>
<line x1="316.3" y1="476" x2="316.3" y2="489" stroke="#000" stroke-width="1.12"/>
<line x1="323" y1="484" x2="337.6" y2="484" stroke="#000" stroke-width="1.12"/>
<line x1="337.6" y1="484" x2="376" y2="484" stroke="#000" stroke-width="1.8"/>
<path d="M324.7 477L323 480.3L329.2 483.7L327 488.2" stroke="#000" stroke-width="1.12" fill="none"/>
<path d="M370.3 476.5L368.6 480.3L372.5 483.2L370.8 488" stroke="#000" stroke-width="1.12" fill="none"/>
<line x1="384.4" y1="468.5" x2="384.4" y2="492.7" stroke="#000" stroke-width="1.12"/>
<line x1="349.4" y1="465.1" x2="361.8" y2="465.1" stroke="#000" stroke-width="1.12"/>
<line x1="347.3" y1="463" x2="347.3" y2="488.8" stroke="#000" stroke-width="1.12"/>
<line x1="363.5" y1="463" x2="363.5" y2="488.8" stroke="#000" stroke-width="1.12"/>
<text x="352.2" y="464.4" font-size="6" font-family="Liberation Sans, sans-serif" fill="#000" textLength="6.4" lengthAdjust="spacingAndGlyphs" stroke="#000" stroke-width="0.25">80</text>
<text x="356.8" y="472.8" font-size="5.5" font-family="Liberation Sans, sans-serif" fill="#000" textLength="4.4" lengthAdjust="spacingAndGlyphs" stroke="#000" stroke-width="0.25">18</text>
<text x="339.3" y="475.8" font-size="6" font-family="Liberation Sans, sans-serif" fill="#000" textLength="6.8" lengthAdjust="spacingAndGlyphs" transform="rotate(-90 339.3 475.8)" stroke="#000" stroke-width="0.25">23</text>
<text x="315.2" y="486.5" font-size="6" font-family="Liberation Sans, sans-serif" fill="#000" textLength="7.3" lengthAdjust="spacingAndGlyphs" transform="rotate(-90 315.2 486.5)" stroke="#000" stroke-width="0.25">60</text>
<text x="382.6" y="475.8" font-size="6" font-family="Liberation Sans, sans-serif" fill="#000" textLength="6.8" lengthAdjust="spacingAndGlyphs" transform="rotate(-90 382.6 475.8)" stroke="#000" stroke-width="0.25">85</text>
<rect x="347.7" y="481.8" width="15.8" height="5.2" fill="#000"/>
<rect x="349.6" y="483.2" width="3" height="2.2" fill="#fff"/><rect x="354" y="483.2" width="3.4" height="2.2" fill="#fff"/><rect x="358.8" y="483.2" width="3" height="2.2" fill="#fff"/>
<line x1="356.2" y1="469" x2="356.2" y2="498.3" stroke="#000" stroke-width="1.12"/>
<line x1="351.4" y1="488.8" x2="351.4" y2="507.3" stroke="#000" stroke-width="1.12"/>
<line x1="359" y1="488.8" x2="359" y2="507.3" stroke="#000" stroke-width="1.12"/>
<line x1="356.2" y1="498.3" x2="360.2" y2="498.3" stroke="#000" stroke-width="1.12"/>
<text x="358.6" y="499.3" font-size="5" font-family="Liberation Sans, sans-serif" fill="#000" textLength="3.8" lengthAdjust="spacingAndGlyphs" stroke="#000" stroke-width="0.25">13</text>
<line x1="353.4" y1="505" x2="409.5" y2="505" stroke="#000" stroke-width="1.3"/>
<path d="M353.4 505v1.6" stroke="#000" stroke-width="1.12" fill="none"/>
<rect x="365.8" y="501.5" width="5" height="3" fill="none" stroke="#000"/>
<text x="372.5" y="504.3" font-size="6" font-family="Liberation Sans, sans-serif" fill="#000" font-weight="bold" textLength="35.5" lengthAdjust="spacingAndGlyphs" stroke="#000" stroke-width="0.25">40x20xTL2</text>
<text class="cj" x="293.7" y="509" font-size="7.2" fill="#000" textLength="38.4" lengthAdjust="spacingAndGlyphs">两根1.0方管</text>
<line x1="395.5" y1="466.5" x2="453.5" y2="466.5" stroke="#000" stroke-width="1.12"/>
<text x="404.5" y="465.5" font-size="6" font-family="Liberation Sans, sans-serif" fill="#000" font-weight="bold" textLength="35" lengthAdjust="spacingAndGlyphs" stroke="#000" stroke-width="0.25">&#934;8x20xTL3</text>
<line x1="444.5" y1="466" x2="444.5" y2="498" stroke="#000" stroke-width="1.12"/>
<line x1="447.5" y1="466" x2="447.5" y2="498" stroke="#000" stroke-width="1.12"/>
<line x1="449" y1="479" x2="464.5" y2="479" stroke="#000" stroke-width="3.2"/>
<line x1="464" y1="480" x2="468.5" y2="484" stroke="#000" stroke-width="1.12"/>
<line x1="444" y1="484.5" x2="469" y2="484.5" stroke="#000" stroke-width="1.12"/>
<path d="M442.5 483h4l-2 5z" stroke="#000" stroke-width="1.12" fill="#000"/>
<path d="M462 478L467 470.5H473" stroke="#000" stroke-width="1.12" fill="none"/>
<text x="473.5" y="473" font-size="6" font-family="Liberation Sans, sans-serif" fill="#000" textLength="17" lengthAdjust="spacingAndGlyphs" stroke="#000" stroke-width="0.25">19mm</text>
<text class="cj" x="493.2" y="473" font-size="7.4" fill="#000" textLength="22.2" lengthAdjust="spacingAndGlyphs">二层板</text>
<line x1="442" y1="497.5" x2="458" y2="497.5" stroke="#000" stroke-width="1.12"/>
<text x="454.5" y="496.5" font-size="6" font-family="Liberation Sans, sans-serif" fill="#000" stroke="#000" stroke-width="0.25">4</text>
<text x="403" y="525.6" font-size="9.6" font-family="Liberation Sans, sans-serif" fill="#000" textLength="22.6" lengthAdjust="spacingAndGlyphs">A&#8211;A</text>
<line x1="400" y1="528.5" x2="430" y2="528.5" stroke="#000" stroke-width="1.3"/>
<line x1="400" y1="531" x2="430" y2="531" stroke="#000" stroke-width="1.3"/>
<text x="406.5" y="539.5" font-size="8" font-family="Liberation Sans, sans-serif" fill="#000" stroke="#000" stroke-width="0.25">2</text>
<text x="414.5" y="538.5" font-size="7" font-family="Liberation Sans, sans-serif" fill="#000" stroke="#000" stroke-width="0.25">:</text>
<text x="421" y="539.5" font-size="8" font-family="Liberation Sans, sans-serif" fill="#000" stroke="#000" stroke-width="0.25">1</text>
<line x1="540" y1="332.5" x2="800" y2="332.5" stroke="#000" stroke-width="1.12"/>
<line x1="540" y1="348.5" x2="800" y2="348.5" stroke="#000" stroke-width="1.12"/>
<line x1="540" y1="364.5" x2="800" y2="364.5" stroke="#000" stroke-width="1.12"/>
<line x1="540" y1="380.5" x2="800" y2="380.5" stroke="#000" stroke-width="1.12"/>
<line x1="540" y1="395.5" x2="800" y2="395.5" stroke="#000" stroke-width="1.12"/>
<line x1="540" y1="411.5" x2="800" y2="411.5" stroke="#000" stroke-width="1.12"/>
<line x1="540" y1="427.5" x2="800" y2="427.5" stroke="#000" stroke-width="1.12"/>
<line x1="540" y1="443.5" x2="800" y2="443.5" stroke="#000" stroke-width="1.12"/>
<line x1="540" y1="459.5" x2="800" y2="459.5" stroke="#000" stroke-width="1.12"/>
<line x1="540" y1="475.5" x2="800" y2="475.5" stroke="#000" stroke-width="1.12"/>
<line x1="540" y1="491.5" x2="743.5" y2="491.5" stroke="#000" stroke-width="1.12"/>
<line x1="540" y1="507.5" x2="697.5" y2="507.5" stroke="#000" stroke-width="1.12"/>
<line x1="540" y1="522.5" x2="697.5" y2="522.5" stroke="#000" stroke-width="1.12"/>
<line x1="540" y1="538.5" x2="697.5" y2="538.5" stroke="#000" stroke-width="1.12"/>
<line x1="540.5" y1="332.5" x2="540.5" y2="550" stroke="#000" stroke-width="1.12"/>
<line x1="572.5" y1="332.5" x2="572.5" y2="550" stroke="#000" stroke-width="1.12"/>
<line x1="617.5" y1="332.5" x2="617.5" y2="550" stroke="#000" stroke-width="1.12"/>
<line x1="667.5" y1="332.5" x2="667.5" y2="550" stroke="#000" stroke-width="1.12"/>
<line x1="697.5" y1="332.5" x2="697.5" y2="540" stroke="#000" stroke-width="1.12"/>
<line x1="743.5" y1="332.5" x2="743.5" y2="491" stroke="#000" stroke-width="1.12"/>
<text x="556.8" y="344.5" font-size="10" font-family="Liberation Sans, sans-serif" fill="#000" text-anchor="middle" textLength="10.6" lengthAdjust="spacingAndGlyphs">13</text>
<text class="cj" x="578.8" y="343.8" font-size="7.5" fill="#000" opacity="0.8" textLength="30.2" lengthAdjust="spacingAndGlyphs">连接角板</text>
<text x="626.8" y="345.3" font-size="7" font-family="Liberation Sans, sans-serif" fill="#000" font-weight="bold" textLength="32.1" lengthAdjust="spacingAndGlyphs" stroke="none">80x25x4</text>
<text x="682.7" y="344.2" font-size="10" font-family="Liberation Sans, sans-serif" fill="#000" text-anchor="middle" textLength="11" lengthAdjust="spacingAndGlyphs">20</text>
<text x="722.8" y="344" font-size="9.3" font-family="Liberation Sans, sans-serif" fill="#000" text-anchor="middle" textLength="21.5" lengthAdjust="spacingAndGlyphs">Q235</text>
<text x="556.8" y="360.37" font-size="10" font-family="Liberation Sans, sans-serif" fill="#000" text-anchor="middle" textLength="10.6" lengthAdjust="spacingAndGlyphs">12</text>
<text class="cj" x="586.4" y="359.7" font-size="7.5" fill="#000" opacity="0.8" textLength="15.1" lengthAdjust="spacingAndGlyphs">螺栓</text>
<text x="631.7" y="356.07" font-size="7" font-family="Liberation Sans, sans-serif" fill="#000" font-weight="bold" textLength="24.4" lengthAdjust="spacingAndGlyphs" stroke="none">M6x20</text>
<path d="M637 361.87h1.5m2.5 -1h2m2.5 1h1.5" stroke="#333" stroke-width="1.12" fill="none"/>
<text x="682.7" y="361.27" font-size="10" font-family="Liberation Sans, sans-serif" fill="#000" text-anchor="middle" textLength="5.3" lengthAdjust="spacingAndGlyphs">2</text>
<text x="556.8" y="376.24" font-size="10" font-family="Liberation Sans, sans-serif" fill="#000" text-anchor="middle" textLength="10.6" lengthAdjust="spacingAndGlyphs">11</text>
<text class="cj" x="578.8" y="375.6" font-size="7.5" fill="#000" opacity="0.8" textLength="30.2" lengthAdjust="spacingAndGlyphs">护栏弯管</text>
<text x="628.5" y="377.04" font-size="7" font-family="Liberation Sans, sans-serif" fill="#000" font-weight="bold" textLength="29.3" lengthAdjust="spacingAndGlyphs" stroke="none">&#248;38x1.3</text>
<text x="722.8" y="375.74" font-size="9.3" font-family="Liberation Sans, sans-serif" fill="#000" text-anchor="middle" textLength="21.5" lengthAdjust="spacingAndGlyphs">Q235</text>
<text x="556.8" y="392.11" font-size="10" font-family="Liberation Sans, sans-serif" fill="#000" text-anchor="middle" textLength="10.6" lengthAdjust="spacingAndGlyphs">10</text>
<text class="cj" x="586.4" y="391.4" font-size="7.5" fill="#000" opacity="0.8" textLength="15.1" lengthAdjust="spacingAndGlyphs">床栏</text>
<text x="633.5" y="392.91" font-size="7" font-family="Liberation Sans, sans-serif" fill="#000" font-weight="bold" textLength="24" lengthAdjust="spacingAndGlyphs" stroke="none">&#248;19x1.0</text>
<text x="722.8" y="391.61" font-size="9.3" font-family="Liberation Sans, sans-serif" fill="#000" text-anchor="middle" textLength="21.5" lengthAdjust="spacingAndGlyphs">Q235</text>
<text x="556.8" y="407.98" font-size="10" font-family="Liberation Sans, sans-serif" fill="#000" text-anchor="middle" textLength="5.3" lengthAdjust="spacingAndGlyphs">9</text>
<text class="cj" x="578.8" y="407.3" font-size="7.5" fill="#000" opacity="0.8" textLength="30.2" lengthAdjust="spacingAndGlyphs">床栏立管</text>
<text x="628.5" y="408.78" font-size="7" font-family="Liberation Sans, sans-serif" fill="#000" font-weight="bold" textLength="28.7" lengthAdjust="spacingAndGlyphs" stroke="none">&#248;16x0.8</text>
<text x="722.8" y="407.48" font-size="9.3" font-family="Liberation Sans, sans-serif" fill="#000" text-anchor="middle" textLength="21.5" lengthAdjust="spacingAndGlyphs">Q235</text>
<text x="556.8" y="423.85" font-size="10" font-family="Liberation Sans, sans-serif" fill="#000" text-anchor="middle" textLength="5.3" lengthAdjust="spacingAndGlyphs">8</text>
<text class="cj" x="578.8" y="423.2" font-size="7.5" fill="#000" opacity="0.8" textLength="30.2" lengthAdjust="spacingAndGlyphs">床栏横管</text>
<rect x="622.6" y="419.85" width="4.4" height="4.4" fill="none" stroke="#000" stroke-width="1"/>
<text x="627.3" y="424.65" font-size="7" font-family="Liberation Sans, sans-serif" fill="#000" font-weight="bold" textLength="33.1" lengthAdjust="spacingAndGlyphs" stroke="none">19x19x1.0</text>
<text x="722.8" y="423.35" font-size="9.3" font-family="Liberation Sans, sans-serif" fill="#000" text-anchor="middle" textLength="21.5" lengthAdjust="spacingAndGlyphs">Q235</text>
<text x="556.8" y="439.72" font-size="10" font-family="Liberation Sans, sans-serif" fill="#000" text-anchor="middle" textLength="5.3" lengthAdjust="spacingAndGlyphs">7</text>
<text class="cj" x="582.6" y="439" font-size="7.5" fill="#000" opacity="0.8" textLength="22.7" lengthAdjust="spacingAndGlyphs">床边梁</text>
<rect x="622.2" y="437.12" width="5" height="3" fill="none" stroke="#000" stroke-width="1"/>
<text x="627.7" y="440.52" font-size="7" font-family="Liberation Sans, sans-serif" fill="#000" font-weight="bold" textLength="36.5" lengthAdjust="spacingAndGlyphs" stroke="none">60x20x1.3</text>
<text x="722.8" y="439.22" font-size="9.3" font-family="Liberation Sans, sans-serif" fill="#000" text-anchor="middle" textLength="21.5" lengthAdjust="spacingAndGlyphs">Q235</text>
<text x="556.8" y="455.59" font-size="10" font-family="Liberation Sans, sans-serif" fill="#000" text-anchor="middle" textLength="5.3" lengthAdjust="spacingAndGlyphs">6</text>
<text class="cj" x="586.4" y="454.9" font-size="7.5" fill="#000" opacity="0.8" textLength="15.1" lengthAdjust="spacingAndGlyphs">弯管</text>
<text x="628.5" y="456.39" font-size="7" font-family="Liberation Sans, sans-serif" fill="#000" font-weight="bold" textLength="28.7" lengthAdjust="spacingAndGlyphs" stroke="none">&#248;38x1.3</text>
<text x="722.8" y="455.09" font-size="9.3" font-family="Liberation Sans, sans-serif" fill="#000" text-anchor="middle" textLength="21.5" lengthAdjust="spacingAndGlyphs">Q235</text>
<text x="556.8" y="471.46" font-size="10" font-family="Liberation Sans, sans-serif" fill="#000" text-anchor="middle" textLength="5.3" lengthAdjust="spacingAndGlyphs">5</text>
<text class="cj" x="586.4" y="470.8" font-size="7.5" fill="#000" opacity="0.8" textLength="15.1" lengthAdjust="spacingAndGlyphs">螺栓</text>
<text x="631.7" y="467.16" font-size="7" font-family="Liberation Sans, sans-serif" fill="#000" font-weight="bold" textLength="23.3" lengthAdjust="spacingAndGlyphs" stroke="none">M6x50</text>
<path d="M637 472.96h1.5m2.5 -1h2m2.5 1h1.5" stroke="#333" stroke-width="1.12" fill="none"/>
<text x="682.7" y="471.16" font-size="10" font-family="Liberation Sans, sans-serif" fill="#000" text-anchor="middle" textLength="11" lengthAdjust="spacingAndGlyphs">23</text>
<text x="556.8" y="487.33" font-size="10" font-family="Liberation Sans, sans-serif" fill="#000" text-anchor="middle" textLength="5.3" lengthAdjust="spacingAndGlyphs">4</text>
<text class="cj" x="586.4" y="486.6" font-size="7.5" fill="#000" opacity="0.8" textLength="15.1" lengthAdjust="spacingAndGlyphs">管塞</text>
<text x="628.5" y="488.13" font-size="7" font-family="Liberation Sans, sans-serif" fill="#000" font-weight="bold" textLength="14.9" lengthAdjust="spacingAndGlyphs" stroke="none">&#248;38</text>
<text x="682.7" y="487.03" font-size="10" font-family="Liberation Sans, sans-serif" fill="#000" text-anchor="middle" textLength="5.3" lengthAdjust="spacingAndGlyphs">8</text>
<text x="556.8" y="503.2" font-size="10" font-family="Liberation Sans, sans-serif" fill="#000" text-anchor="middle" textLength="5.3" lengthAdjust="spacingAndGlyphs">3</text>
<text class="cj" x="586.4" y="502.5" font-size="7.5" fill="#000" opacity="0.8" textLength="15.1" lengthAdjust="spacingAndGlyphs">螺栓</text>
<text x="631.7" y="498.9" font-size="7" font-family="Liberation Sans, sans-serif" fill="#000" font-weight="bold" textLength="24.3" lengthAdjust="spacingAndGlyphs" stroke="none">M6x20</text>
<path d="M637 504.7h1.5m2.5 -1h2m2.5 1h1.5" stroke="#333" stroke-width="1.12" fill="none"/>
<text x="682.7" y="502.9" font-size="10" font-family="Liberation Sans, sans-serif" fill="#000" text-anchor="middle" textLength="11" lengthAdjust="spacingAndGlyphs">26</text>
<text x="556.8" y="519.07" font-size="10" font-family="Liberation Sans, sans-serif" fill="#000" text-anchor="middle" textLength="5.3" lengthAdjust="spacingAndGlyphs">2</text>
<text class="cj" x="582.6" y="518.4" font-size="7.5" fill="#000" opacity="0.8" textLength="22.7" lengthAdjust="spacingAndGlyphs">床横梁</text>
<rect x="621.5" y="516.47" width="5" height="3" fill="none" stroke="#000" stroke-width="1"/>
<text x="627" y="519.87" font-size="7" font-family="Liberation Sans, sans-serif" fill="#000" font-weight="bold" textLength="34.4" lengthAdjust="spacingAndGlyphs" stroke="none">40x20x1.2</text>
<text x="556.8" y="534.94" font-size="10" font-family="Liberation Sans, sans-serif" fill="#000" text-anchor="middle" textLength="5.3" lengthAdjust="spacingAndGlyphs">1</text>
<text class="cj" x="582.6" y="534.3" font-size="7.5" fill="#000" opacity="0.8" textLength="22.7" lengthAdjust="spacingAndGlyphs">床立管</text>
<rect x="621.5" y="532.34" width="5" height="3" fill="none" stroke="#000" stroke-width="1"/>
<text x="627" y="535.74" font-size="7" font-family="Liberation Sans, sans-serif" fill="#000" font-weight="bold" textLength="34.4" lengthAdjust="spacingAndGlyphs" stroke="none">40x20x1.2</text>
<text class="cj" x="715" y="487.4" font-size="7.4" fill="#000" textLength="14.8" lengthAdjust="spacingAndGlyphs">塑料</text>
<clipPath id="hc"><rect x="530" y="538.81" width="200" height="11.19"/></clipPath><g clip-path="url(#hc)">
<text class="cj" x="545" y="551.9" font-size="7.8" fill="#000">序</text>
<text class="cj" x="560.2" y="551.9" font-size="7.8" fill="#000">号</text>
<text class="cj" x="580.2" y="549.4" font-size="7.7" fill="#000" textLength="15.4" lengthAdjust="spacingAndGlyphs">名称</text>
<text class="cj" x="621.2" y="548.4" font-size="7.8" fill="#000" textLength="39.6" lengthAdjust="spacingAndGlyphs">型号及规格</text>
<text class="cj" x="671" y="551.9" font-size="7.8" fill="#000">数</text>
<text class="cj" x="686.1" y="551.9" font-size="7.8" fill="#000">量</text>
</g>
<defs><filter id="bl" x="-50%" y="-50%" width="200%" height="200%"><feGaussianBlur stdDeviation="3"/></filter></defs>
<g filter="url(#bl)" opacity="0.5"><path d="M738 492L748 530L742 534L734 500Z" fill="#cfcfcf"/><path d="M703 532L733 534L730 541L706 538Z" fill="#d4d4d4"/></g>
<g opacity="0.22" stroke="#d0d0d0" stroke-width="1.2"><line x1="705" y1="580" x2="705" y2="600"/><line x1="712" y1="581" x2="712" y2="600"/><line x1="719" y1="582" x2="719" y2="600"/><line x1="726" y1="580" x2="726" y2="600"/><line x1="733" y1="581" x2="733" y2="600"/><line x1="740" y1="582" x2="740" y2="600"/><line x1="747" y1="580" x2="747" y2="600"/><line x1="754" y1="581" x2="754" y2="600"/><line x1="761" y1="582" x2="761" y2="600"/><line x1="768" y1="580" x2="768" y2="600"/><line x1="775" y1="581" x2="775" y2="600"/><line x1="782" y1="582" x2="782" y2="600"/><line x1="789" y1="580" x2="789" y2="600"/><line x1="796" y1="581" x2="796" y2="600"/></g>
<defs><filter id="wm" x="-5%" y="-5%" width="110%" height="110%"><feMorphology in="SourceAlpha" operator="erode" radius="1" result="e"/><feComposite in="SourceAlpha" in2="e" operator="out" result="ring"/><feFlood flood-color="#747474"/><feComposite in2="ring" operator="in" result="ringc"/><feFlood flood-color="#fff" flood-opacity="0.68"/><feComposite in2="SourceAlpha" operator="in" result="fillc"/><feMerge><feMergeNode in="fillc"/><feMergeNode in="ringc"/></feMerge></filter></defs>
<g filter="url(#wm)" fill="#000" stroke="none">
<path d="M618 472.2H625.5L614 487H608.2V483Z"/>
<rect x="608.2" y="480.5" width="29" height="5.5"/>
<rect x="618" y="480.5" width="4.6" height="24"/>
<rect x="608.2" y="499" width="33" height="5.5"/>
<path d="M618 504H624L615 527.4H608.5Z"/>
<path d="M619.5 504H625.5L640 527H633.5Z"/>
<path fill-rule="evenodd" d="M648 477.6H661.8Q664.8 477.6 664.8 480.6V524.4Q664.8 527.4 661.8 527.4H648Q645 527.4 645 524.4V480.6Q645 477.6 648 477.6ZM649.4 483V521H660V483Z"/>
<rect x="699.3" y="472.2" width="5" height="56.4"/>
<rect x="672.4" y="480" width="56.4" height="6" rx="1.5"/>
<rect x="679.6" y="493.8" width="42" height="7.2" rx="1.5"/>
<path d="M690 503.4H698.2L682 522.6H672.4Z"/>
<path d="M703.6 503.4H712L729.4 522.6H720.4Z"/>
</g>
<text x="562" y="572" font-size="31.5" font-family="Liberation Sans, sans-serif" fill="#fff" textLength="206" lengthAdjust="spacingAndGlyphs" fill-opacity="0.7" stroke="#7c7c7c" stroke-width="1.15">ID: 166480155</text>
</g>
</svg>
</body></html>
